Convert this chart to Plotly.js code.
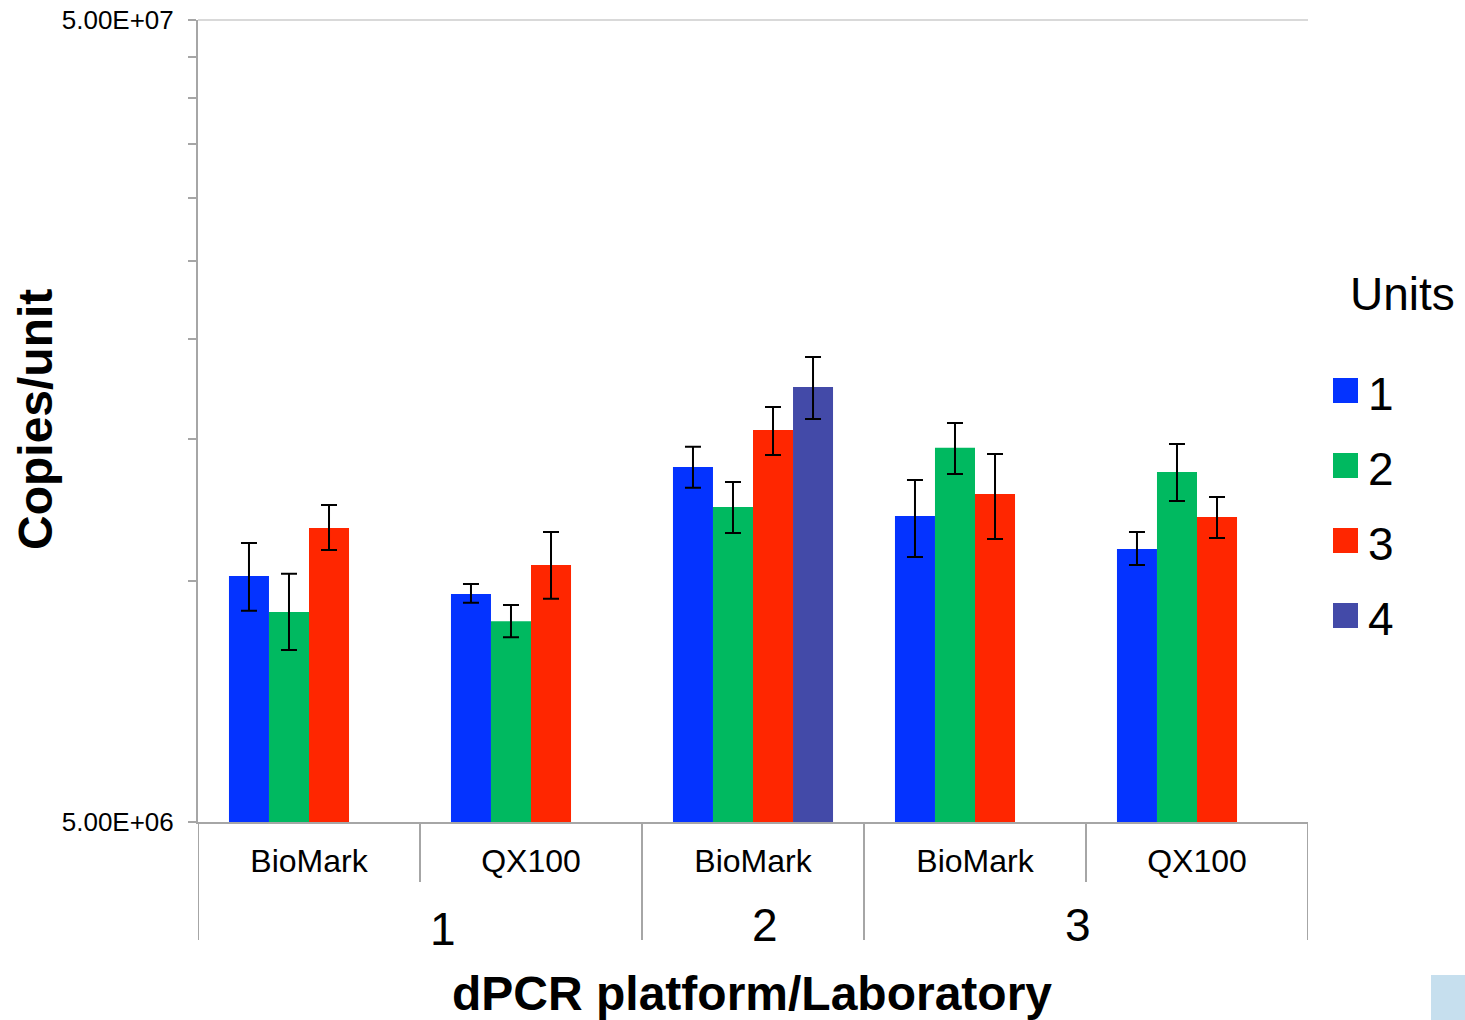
<!DOCTYPE html>
<html>
<head>
<meta charset="utf-8">
<script src="https://cdn.plot.ly/plotly-3.0.1.min.js"></script>
<style>
  html, body { margin: 0; padding: 0; background: #ffffff; }
  #chart { width: 1465px; height: 1020px; }
</style>
</head>
<body>
<div id="chart"></div>
<script>
// ---- Data ----
var platforms = ['BioMark', 'QX100', 'BioMark', 'BioMark', 'QX100'];
var labs = ['1', '1', '2', '3', '3'];
var unitNames = ['1', '2', '3', '4'];
var unitColors = ['#0433FF', '#00B960', '#FF2600', '#434AA8'];

var unit1   = [1.013e7, 9.62e6, 1.386e7, 1.204e7, 1.095e7];
var unit1Hi = [1.114e7, 9.90e6, 1.468e7, 1.335e7, 1.150e7];
var unit1Lo = [9.17e6,  9.38e6, 1.305e7, 1.070e7, 1.046e7];

var unit2   = [9.14e6, 8.90e6, 1.235e7, 1.464e7, 1.366e7];
var unit2Hi = [1.020e7, 9.32e6, 1.327e7, 1.572e7, 1.480e7];
var unit2Lo = [8.19e6, 8.50e6, 1.146e7, 1.358e7, 1.257e7];

var unit3   = [1.163e7, 1.046e7, 1.541e7, 1.282e7, 1.200e7];
var unit3Hi = [1.242e7, 1.150e7, 1.646e7, 1.438e7, 1.271e7];
var unit3Lo = [1.092e7, 9.49e6,  1.434e7, 1.127e7, 1.130e7];

var unit4   = [null, null, 1.743e7, null, null];
var unit4Hi = [null, null, 1.900e7, null, null];
var unit4Lo = [null, null, 1.590e7, null, null];

var yTickVals = [5e6, 1e7, 1.5e7, 2e7, 2.5e7, 3e7, 3.5e7, 4e7, 4.5e7, 5e7];
var yTickText = ['5.00E+06', '', '', '', '', '', '', '', '', '5.00E+07'];

// ---- Build traces ----
var FONT = 'Liberation Sans, Arial, Helvetica, sans-serif';
var xIdx = platforms.map(function (_, i) { return i; });
var series = [[unit1, unit1Hi, unit1Lo], [unit2, unit2Hi, unit2Lo], [unit3, unit3Hi, unit3Lo], [unit4, unit4Hi, unit4Lo]];

var traces = series.map(function (s, k) {
  var v = s[0], hi = s[1], lo = s[2];
  return {
    type: 'bar',
    name: unitNames[k],
    x: xIdx,
    y: v,
    marker: { color: unitColors[k], line: { width: 0 } },
    error_y: {
      type: 'data', symmetric: false,
      array: v.map(function (d, i) { return d == null ? null : hi[i] - d; }),
      arrayminus: v.map(function (d, i) { return d == null ? null : d - lo[i]; }),
      color: '#000000', thickness: 2, width: 8
    },
    showlegend: false,
    hoverinfo: 'x+y'
  };
});

// ---- Layout helpers (pixel -> paper) ----
var L = 198, R = 1308, T = 20, B = 822;
function px(x) { return (x - L) / (R - L); }
function py(y) { return (B - y) / (B - T); }

var shapes = [];
// top gridline
shapes.push({ type: 'line', xref: 'paper', yref: 'paper', x0: 0, x1: 1, y0: 1, y1: 1,
  line: { color: '#D9D9D9', width: 2 }, layer: 'below' });
// category dividers
var dividers = [[-0.5, 940], [0.5, 882], [1.5, 940], [2.5, 940], [3.5, 882], [4.5, 940]];
dividers.forEach(function (d) {
  shapes.push({ type: 'line', xref: 'x', yref: 'paper', x0: d[0], x1: d[0], y0: 0, y1: py(d[1]),
    line: { color: '#A6A6A6', width: 2 } });
});
// custom legend swatches
var swatchTop = [378, 453, 528, 603];
unitNames.forEach(function (n, k) {
  shapes.push({ type: 'rect', xref: 'paper', yref: 'paper',
    x0: px(1333), x1: px(1358), y0: py(swatchTop[k] + 25), y1: py(swatchTop[k]),
    fillcolor: unitColors[k], line: { width: 0 } });
});
// small light-blue patch in the bottom-right corner
shapes.push({ type: 'rect', xref: 'paper', yref: 'paper',
  x0: px(1431), x1: px(1466), y0: py(1021), y1: py(975),
  fillcolor: '#C6DFEE', line: { width: 0 } });

var annotations = [];
// lab group labels
var labPos = [[0.604, 929, '1'], [2.054, 925, '2'], [3.464, 925, '3']];
labPos.forEach(function (g) {
  annotations.push({ xref: 'x', yref: 'paper', x: g[0], y: py(g[1]), text: g[2], showarrow: false,
    xanchor: 'center', yanchor: 'middle', font: { family: FONT, size: 46, color: '#000' } });
});
// legend title & labels
annotations.push({ xref: 'paper', yref: 'paper', x: px(1348), y: py(294), text: 'Units', showarrow: false,
  xanchor: 'left', yanchor: 'middle', font: { family: FONT, size: 46, color: '#000' } });
unitNames.forEach(function (n, k) {
  annotations.push({ xref: 'paper', yref: 'paper', x: px(1366), y: py(swatchTop[k] + 16), text: n, showarrow: false,
    xanchor: 'left', yanchor: 'middle', font: { family: FONT, size: 46, color: '#000' } });
});
// axis titles
annotations.push({ xref: 'paper', yref: 'paper', x: px(35), y: py(420), text: 'Copies/unit', showarrow: false,
  textangle: -90, xanchor: 'center', yanchor: 'middle',
  font: { family: FONT, size: 48, color: '#000', weight: 'bold' } });
annotations.push({ xref: 'paper', yref: 'paper', x: px(752), y: py(993), text: 'dPCR platform/Laboratory', showarrow: false,
  xanchor: 'center', yanchor: 'middle',
  font: { family: FONT, size: 48, color: '#000', weight: 'bold' } });

var layout = {
  width: 1465, height: 1020,
  margin: { l: L, r: 1465 - R, t: T, b: 1020 - B, pad: 0 },
  paper_bgcolor: '#ffffff', plot_bgcolor: '#ffffff',
  barmode: 'group', bargap: 0.279, bargroupgap: 0,
  showlegend: false,
  font: { family: FONT, color: '#000' },
  xaxis: {
    type: 'linear', range: [-0.5, 4.5], fixedrange: true,
    tickmode: 'array', tickvals: xIdx, ticktext: platforms,
    tickfont: { family: FONT, size: 32, color: '#000' },
    ticks: '', ticklabelstandoff: 10,
    showgrid: false, zeroline: false,
    showline: true, linecolor: '#A6A6A6', linewidth: 2
  },
  yaxis: {
    type: 'log', range: [Math.log10(5e6), Math.log10(5e7)], fixedrange: true,
    tickmode: 'array', tickvals: yTickVals, ticktext: yTickText,
    tickfont: { family: FONT, size: 26, color: '#000' },
    ticks: 'outside', ticklen: 8, tickwidth: 2, tickcolor: '#A6A6A6',
    ticklabelstandoff: 9,
    showgrid: false, zeroline: false,
    showline: true, linecolor: '#A6A6A6', linewidth: 2
  },
  shapes: shapes,
  annotations: annotations
};

Plotly.newPlot('chart', traces, layout, { displayModeBar: false, staticPlot: true });
</script>
</body>
</html>
